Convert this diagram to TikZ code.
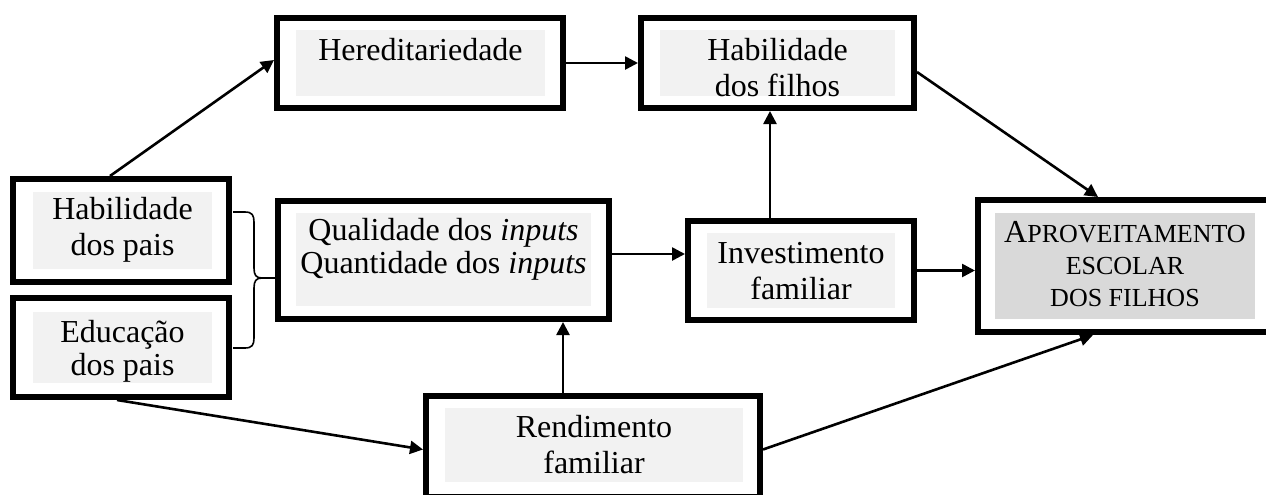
\documentclass[tikz,border=0pt]{standalone}
\usepackage{fontspec}
\setmainfont{Liberation Serif}
\usetikzlibrary{arrows.meta}
\definecolor{lightgr}{HTML}{F2F2F2}
\definecolor{darkgr}{HTML}{D9D9D9}
\newcommand\mylines[1]{\begin{tabular}[t]{@{}c@{}}#1\end{tabular}}
\newcommand\smc[1]{{\fontsize{13pt}{16pt}\selectfont #1}}
\tikzset{
  box/.style={draw, line width=3.2pt, inner sep=0pt},
  label/.style={anchor=base, inner sep=0pt, font=\fontsize{16pt}{18pt}\selectfont},
  tight/.style={font=\fontsize{16pt}{16.5pt}\selectfont},
  arr/.style={line width=1.3pt, -{Triangle[length=6.5pt,width=6.5pt]}},
  bracel/.style={line width=0.8pt},
}
\begin{document}
\begin{tikzpicture}[x=0.5pt,y=-0.5pt]
\clip (0,0) rectangle (1266,494);
% grey backgrounds
\fill[lightgr] (296,30) rectangle (545,96);
\fill[lightgr] (660,30) rectangle (895,96);
\fill[lightgr] (33,192) rectangle (212,269);
\fill[lightgr] (33,312) rectangle (212,383);
\fill[lightgr] (296,213) rectangle (591,306);
\fill[lightgr] (707,233) rectangle (895,308);
\fill[darkgr] (995,213) rectangle (1255,319);
\fill[lightgr] (445,408) rectangle (743,482);
% boxes
\node[box, minimum width=142.8pt, minimum height=44.8pt] (her) at (420,63) {};
\node[box, minimum width=136.3pt, minimum height=44.8pt] (hf) at (777.5,63) {};
\node[box, minimum width=107.8pt, minimum height=51.3pt] (hp) at (121,230.5) {};
\node[box, minimum width=107.8pt, minimum height=49.3pt] (ep) at (121,347.5) {};
\node[box, minimum width=165.3pt, minimum height=58.8pt] (qi) at (443.5,260) {};
\node[box, minimum width=112.8pt, minimum height=49.3pt] (inv) at (801,270.5) {};
\node[box, minimum width=146.8pt, minimum height=65.8pt] (apr) at (1125,266) {};
\node[box, minimum width=166.8pt, minimum height=50.3pt] (ren) at (593,446.5) {};
% texts
\node[label] (therr) at (420.5,60) {Hereditariedade};
\node[label] (thf) at (777.5,60) {\mylines{Habilidade\\dos filhos}};
\node[label] (thp) at (122.5,219) {\mylines{Habilidade\\dos pais}};
\node[label, tight] (tep) at (122.5,342) {\mylines{Educação\\dos pais}};
\node[label, tight] (tqi) at (443.5,240) {\mylines{Qualidade dos \textit{inputs}\\Quantidade dos \textit{inputs}}};
\node[label] (tinv) at (801,263) {\mylines{Investimento\\familiar}};
\node[label] (tren) at (594,437) {\mylines{Rendimento\\familiar}};
\node[label, font=\fontsize{16pt}{16pt}\selectfont] (tapr) at (1125,242) {\mylines{A\smc{PROVEITAMENTO}\\\smc{ESCOLAR}\\\smc{DOS FILHOS}}};
% brace
\draw[bracel] (233,212) -- (245,212) .. controls (252,212) and (254,215) .. (254,222)
  -- (254,268) .. controls (254,275) and (256,278) .. (262,278);
\draw[bracel] (233,348) -- (245,348) .. controls (252,348) and (254,345) .. (254,338)
  -- (254,288) .. controls (254,281) and (256,278) .. (262,278);
\draw[bracel] (262,278) -- (qi.west |- 0,278);
% connectors
\draw[arr] ([xshift=-5.5pt]hp.north) -- ([yshift=1.5pt]her.west);
\draw[arr] (her.east) -- (hf.west);
\draw[arr] ([yshift=-4.5pt]hf.east) -- ([xshift=-13.5pt]apr.north);
\draw[arr] ([yshift=3pt]qi.east) -- ([yshift=3pt]qi.east -| inv.west);
\draw[arr] ([xshift=-15.5pt]inv.north) -- ([xshift=-15.5pt]inv.north |- hf.south);
\draw[arr] (inv.east) -- (inv.east -| apr.west);
\draw[arr] ([xshift=-15pt]ren.north) -- ([xshift=-15pt]ren.north |- qi.south);
\draw[arr] ([xshift=-2pt]ep.south) -- ([yshift=-1.5pt]ren.west);
\draw[arr] ([yshift=-1.5pt]ren.east) -- ([xshift=-16pt]apr.south);
\end{tikzpicture}
\end{document}
